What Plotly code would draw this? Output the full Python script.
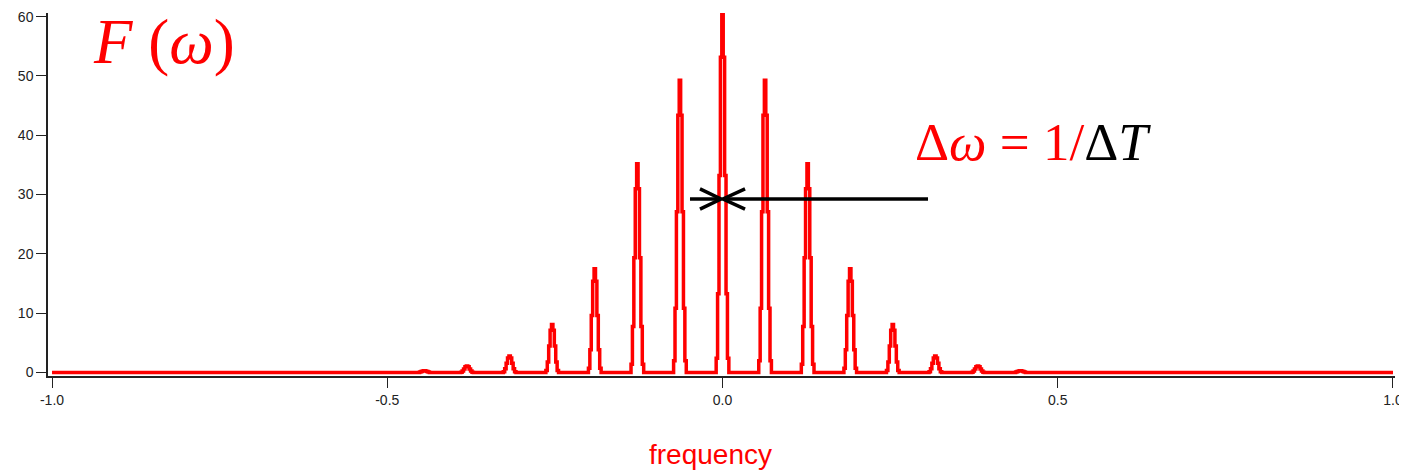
import plotly.graph_objects as go

# ---- data ----
peak_freq = [-0.4445, -0.381, -0.3175, -0.254, -0.1905, -0.127, -0.0635, 0.0,
             0.0635, 0.127, 0.1905, 0.254, 0.3175, 0.381, 0.4445]
peak_height = [0.3, 1.1, 2.8, 8.1, 17.5, 35.2, 49.3, 60.4,
               49.3, 35.2, 17.5, 8.1, 2.8, 1.1, 0.3]
# shape of each spectral line (samples around the centre, relative height)
profile_offset = [-5, -4, -3, -2, -1, 0, 1, 2, 3, 4, 5]
profile_rel = [0.0, 0.04, 0.22, 0.55, 0.88, 1.0, 0.88, 0.55, 0.22, 0.04, 0.0]
sample_step = 0.0021
freq_start, freq_end = -1.0, 1.0

x_tickvals = [-1.0, -0.5, 0.0, 0.5, 1.0]
x_ticktext = ["-1.0", "-0.5", "0.0", "0.5", "1.0"]
y_tickvals = [0, 10, 20, 30, 40, 50, 60]

xs = [freq_start]
ys = [0.0]
for c, h in zip(peak_freq, peak_height):
    for o, r in zip(profile_offset, profile_rel):
        xs.append(c + o * sample_step)
        ys.append(h * r)
xs.append(freq_end)
ys.append(0.0)

fig = go.Figure()
fig.add_trace(go.Scatter(x=xs, y=ys, mode="lines",
                         line=dict(color="#ff0000", width=3.5, shape="hvh"),
                         hoverinfo="skip", showlegend=False))

# page body has an 8px margin, so the figure is made 8px smaller each way
W, H = 1399, 463
L, R, T, B = 40, 12, 5, 95

fig.update_layout(
    width=W, height=H,
    margin=dict(l=L, r=R, t=T, b=B, autoexpand=False),
    paper_bgcolor="white", plot_bgcolor="white",
    font=dict(family="Liberation Sans, Arial, sans-serif", size=14, color="#222222"),
    xaxis=dict(range=[-1.006, 1.003], showgrid=False, zeroline=False, automargin=False,
               showline=True, linecolor="#222222", linewidth=1.5,
               ticks="outside", ticklen=10, tickwidth=1.2, tickcolor="#222222",
               tickvals=x_tickvals, ticktext=x_ticktext,
               tickfont=dict(size=14)),
    yaxis=dict(range=[-0.59, 60.62], showgrid=False, zeroline=False, automargin=False,
               showline=True, linecolor="#222222", linewidth=1.5,
               ticks="outside", ticklen=10, tickwidth=1.2, tickcolor="#222222",
               tickvals=y_tickvals, tickfont=dict(size=14)),
)

# text annotations
fig.add_annotation(x=-0.8325, y=55.7, xref="x", yref="y",
                   text="<i>F</i> (<i>ω</i>)", showarrow=False,
                   font=dict(family="Liberation Serif, Times New Roman, serif",
                             size=63, color="#ff0000"),
                   xanchor="center", yanchor="middle")
fig.add_annotation(x=0.463, y=38.9, xref="x", yref="y",
                   text="Δ<i>ω</i> = 1/<span style='color:#000000'>Δ<i>T</i></span>",
                   showarrow=False,
                   font=dict(family="Liberation Serif, Times New Roman, serif",
                             size=53, color="#ff0000"),
                   xanchor="center", yanchor="middle")
fig.add_annotation(x=(702 - L) / (W - L - R), y=(H - B - 446) / (H - T - B),
                   xref="paper", yref="paper", text="frequency", showarrow=False,
                   font=dict(family="Liberation Sans, Arial, sans-serif",
                             size=28, color="#ff0000"),
                   xanchor="center", yanchor="middle")

# arrows (shafts and open chevron heads)
arrow_y = 29.26
blk = dict(color="#000000", width=3.5)
fig.add_shape(type="line", x0=0.3065, y0=arrow_y, x1=0.0007, y1=arrow_y,
              xref="x", yref="y", line=blk)
fig.add_shape(type="path", xref="x", yref="y", line=blk,
              path=f"M 0.0336 {arrow_y + 1.7} L 0.0007 {arrow_y} L 0.0336 {arrow_y - 1.7}")
fig.add_shape(type="line", x0=-0.0485, y0=arrow_y, x1=-0.0022, y1=arrow_y,
              xref="x", yref="y", line=blk)
fig.add_shape(type="path", xref="x", yref="y", line=blk,
              path=f"M -0.0336 {arrow_y + 1.7} L -0.0022 {arrow_y} L -0.0336 {arrow_y - 1.7}")

fig.write_html("out.html")
